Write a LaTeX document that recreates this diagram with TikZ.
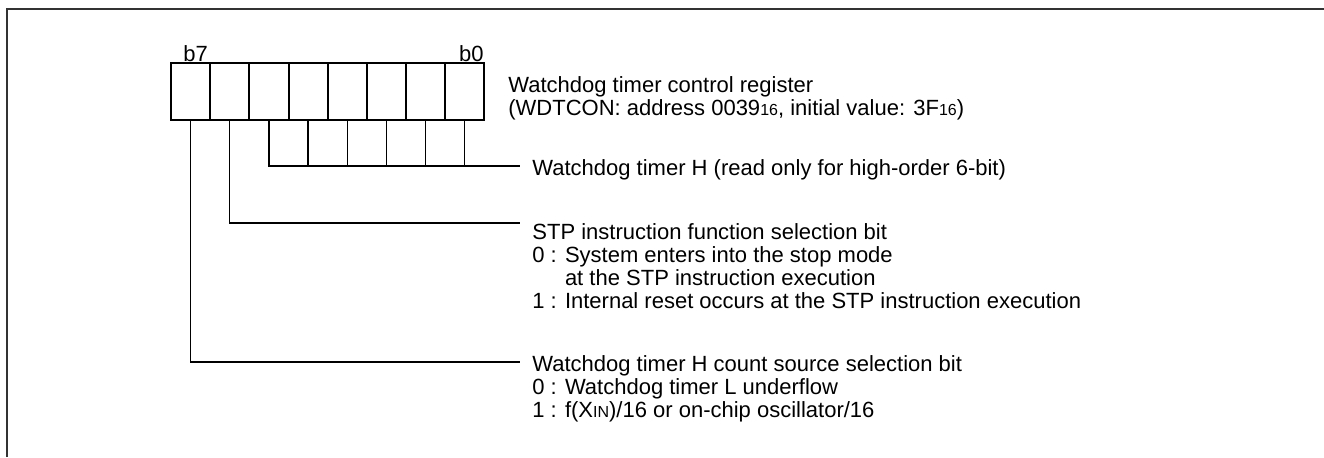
\documentclass[tikz,border=0pt]{standalone}
\usepackage{fontspec}
\setmainfont{Liberation Sans}
\usetikzlibrary{positioning}

\newcommand{\smallnum}[1]{{\fontsize{8}{9}\selectfont #1}}

\tikzset{
  bitcell/.style={rectangle, draw, line width=1pt, minimum width=19.58pt,
    minimum height=28.5pt, inner sep=0pt, outer sep=0pt},
  leader/.style={line width=0.6pt},
  % multi-line nodes: base = baseline of the last line
  desc/.style={anchor=base west, align=left, inner sep=0pt,
    font=\fontsize{11}{11.5}\selectfont},
  bitlabel/.style={inner sep=0pt, font=\fontsize{11}{11.5}\selectfont}
}

\begin{document}
\begin{tikzpicture}[x=0.5pt, y=-0.5pt]
    \useasboundingbox (0,0) rectangle (1324,457);
    % frame
    \draw[line width=1.2pt, black!80] (7,457) -- (7,9) -- (1324,9);

    % register cells, b7 on the left
    \foreach \i in {0,...,7} {
        \pgfmathtruncatemacro{\bit}{7-\i}
        \node[bitcell] (b\bit) at ({171+39.17*\i+19.58}, 91.5) {};
    }
    \node[bitlabel, anchor=base west] (lb7) at (183,61) {b7};
    \node[bitlabel, anchor=base east] (lb0) at (484,61) {b0};

    % descriptions
    \node[desc] (reg) at (508,115) {Watchdog timer control register\\
        (WDTCON: address 0039\smallnum{16}, initial value: 3F\smallnum{16})};
    \node[desc] (wdth) at (532,175) {Watchdog timer H (read only for high-order 6-bit)};
    \node[desc] (stp) at (532,308) {STP instruction function selection bit\\
        0 : System enters into the stop mode\\
        \phantom{0 : }at the STP instruction execution\\
        1 : Internal reset occurs at the STP instruction execution};
    \node[desc] (src) at (532,417) {Watchdog timer H count source selection bit\\
        0 : Watchdog timer L underflow\\
        1 : f(X\smallnum{IN})/16 or on-chip oscillator/16};

    % leader ends
    \coordinate (hend) at (520,166);
    \coordinate (stpend) at (520,223);
    \coordinate (srcend) at (520,362);

    % leaders
    \draw[leader] (b5.south) |- (hend);
    \foreach \bit in {4,...,0}
        \draw[leader] (b\bit.south) -- (b\bit.south |- hend);
    \draw[leader] (b6.south) |- (stpend);
    \draw[leader] (b7.south) |- (srcend);
\end{tikzpicture}
\end{document}
